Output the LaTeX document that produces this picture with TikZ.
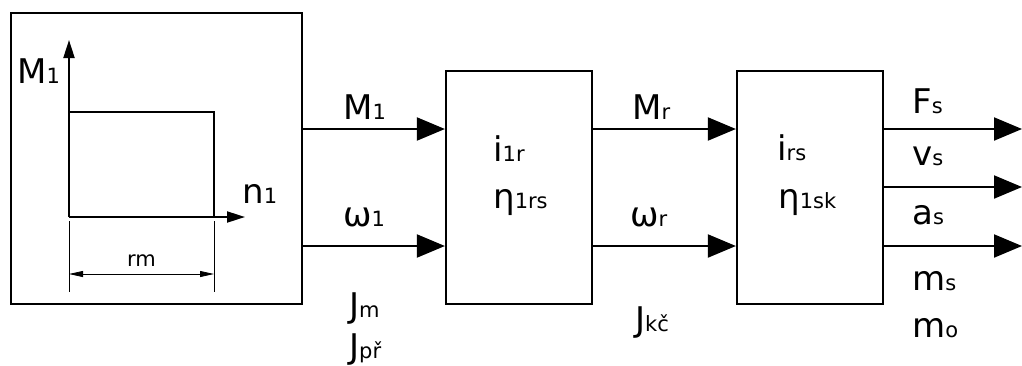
\documentclass[tikz,border=0pt]{standalone}
\usepackage{fontspec}
\setmainfont{DejaVu Sans}
\usetikzlibrary{arrows.meta}
\newcommand{\bigf}{\fontsize{34}{40}\selectfont}
\newcommand{\subf}[1]{{\fontsize{21}{24}\selectfont #1}}
\begin{document}
\begin{tikzpicture}[x=1pt,y=-1pt,
  blk/.style={draw,line width=2.2pt,minimum width=#1,inner sep=0pt},
  lbl/.style={anchor=base west,inner sep=0pt,font=\bigf},
  sig/.style={line width=2pt,-{Triangle[length=28pt,width=23pt]}},
  axis/.style={line width=2pt,-{Triangle[length=18pt,width=11pt]}},
  thin/.style={line width=0.8pt},
  dim/.style={line width=0.8pt,{Triangle[length=14pt,width=6pt]}-{Triangle[length=14pt,width=6pt]}}]
\useasboundingbox (0,0) rectangle (1022,365);
% blocks
\node[blk=291pt,minimum height=291pt] (b1) at (156.5,158.5) {};
\node[blk=146pt,minimum height=233pt] (b2) at (519,187.5) {};
\node[blk=146pt,minimum height=233pt] (b3) at (810,187.5) {};
% characteristic inside block 1
\coordinate (o) at (69,217);
\coordinate (ytip) at (69,40);
\coordinate (xtip) at (245,217);
\coordinate (rtl) at (69,112);
\coordinate (rtr) at (214,112);
\coordinate (rbr) at (214,217);
\draw[axis] (o) -- (ytip);
\draw[axis] (o) -- (xtip);
\draw[line width=2pt] (rtl) -- (rtr) -- (rbr);
\coordinate (e1a) at (69,221);
\coordinate (e1b) at (69,292);
\coordinate (e2a) at (214,221);
\coordinate (e2b) at (214,292);
\draw[thin] (e1a) -- (e1b);
\draw[thin] (e2a) -- (e2b);
\coordinate (d1) at (69,274);
\coordinate (d2) at (214,274);
\draw[dim] (d1) -- (d2);
\node[lbl] (tM) at (17,83) {M\subf{1}};
\node[lbl] (tn) at (242,203) {n\subf{1}};
\node[anchor=base west,inner sep=0pt,font=\fontsize{21}{24}\selectfont] (trm) at (127,266) {rm};
% rows
\coordinate (r1) at (0,129);
\coordinate (r2) at (0,187);
\coordinate (r3) at (0,246);
\coordinate (out1) at (1022,129);
\coordinate (out2) at (1022,187);
\coordinate (out3) at (1022,246);
\draw[sig] (b1.east |- r1) -- (b2.west |- r1);
\draw[sig] (b1.east |- r3) -- (b2.west |- r3);
\draw[sig] (b2.east |- r1) -- (b3.west |- r1);
\draw[sig] (b2.east |- r3) -- (b3.west |- r3);
\draw[sig] (b3.east |- r1) -- (out1);
\draw[sig] (b3.east |- r2) -- (out2);
\draw[sig] (b3.east |- r3) -- (out3);
% labels
\node[lbl] (lM1) at (343,119) {M\subf{1}};
\node[lbl] (lw1) at (343,226) {ω\subf{1}};
\node[lbl] (lJm) at (349,317) {J\subf{m}};
\node[lbl] (lJp) at (349,358) {J\subf{př}};
\node[lbl] (li1r) at (493,161) {i\subf{1r}};
\node[lbl] (le1) at (493,208) {η\subf{1rs}};
\node[lbl] (lMr) at (632,119) {M\subf{r}};
\node[lbl] (lwr) at (630,226) {ω\subf{r}};
\node[lbl] (lJk) at (635,331) {J\subf{kč}};
\node[lbl] (lirs) at (777,160) {i\subf{rs}};
\node[lbl] (le2) at (778,208) {η\subf{1sk}};
\node[lbl] (lFs) at (912,113) {F\subf{s}};
\node[lbl] (lvs) at (912,165) {v\subf{s}};
\node[lbl] (las) at (912,224) {a\subf{s}};
\node[lbl] (lms) at (912,290) {m\subf{s}};
\node[lbl] (lmo) at (912,337) {m\subf{o}};
\end{tikzpicture}
\end{document}
